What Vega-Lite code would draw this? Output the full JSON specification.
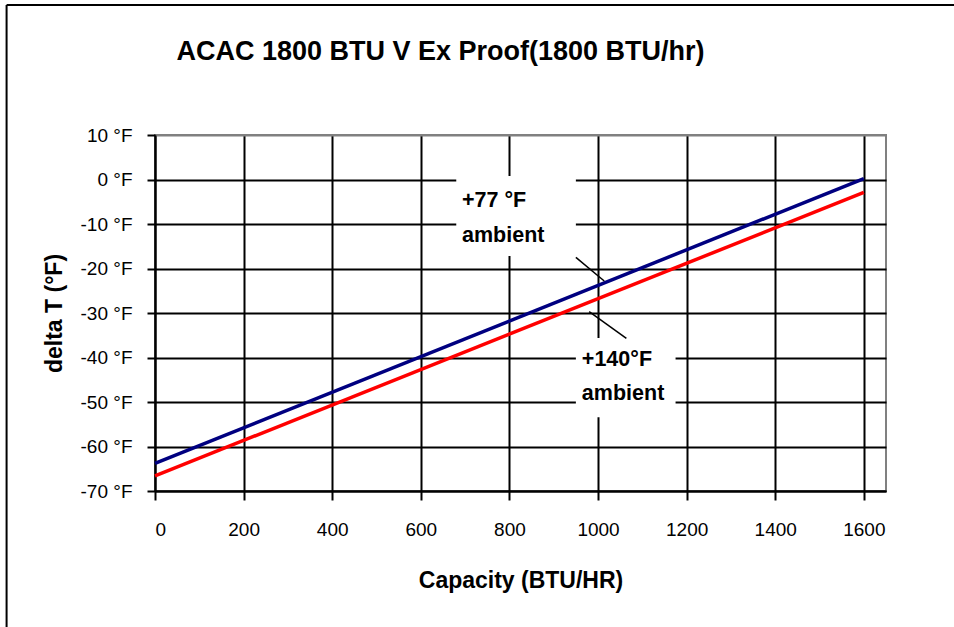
{
  "$schema": "https://vega.github.io/schema/vega-lite/v6.json",
  "width": 731,
  "height": 356,
  "autosize": {"type": "none"},
  "padding": {"left": 155, "top": 135, "right": 68, "bottom": 136},
  "background": "white",
  "title": {
    "text": "ACAC 1800 BTU V Ex Proof(1800 BTU/hr)",
    "font": "Liberation Sans",
    "fontSize": 27,
    "fontWeight": "bold",
    "color": "black",
    "anchor": "middle",
    "dx": -80,
    "baseline": "alphabetic",
    "offset": -83
  },
  "config": {
    "view": {"stroke": "#808080", "strokeWidth": 2},
    "axis": {
      "grid": true,
      "domainColor": "black",
      "domainWidth": 2,
      "tickColor": "black",
      "tickWidth": 2,
      "gridColor": "black",
      "gridWidth": 2,
      "gridOpacity": 1,
      "labelColor": "black",
      "labelFont": "Liberation Sans",
      "labelFontSize": 19,
      "titleFont": "Liberation Sans",
      "titleFontSize": 23,
      "titleFontWeight": "bold",
      "titleColor": "black"
    }
  },
  "layer": [
    {
      "data": {
        "values": [
          {"capacity": 0, "deltaT": -63.8, "series": "+77 °F ambient"},
          {"capacity": 1600, "deltaT": 0.2, "series": "+77 °F ambient"},
          {"capacity": 0, "deltaT": -66.6, "series": "+140°F ambient"},
          {"capacity": 1600, "deltaT": -2.9, "series": "+140°F ambient"}
        ]
      },
      "mark": {"type": "line", "strokeWidth": 3.5},
      "encoding": {
        "x": {
          "field": "capacity",
          "type": "quantitative",
          "scale": {"domain": [0, 1650], "nice": false, "zero": false},
          "axis": {
            "title": "Capacity (BTU/HR)",
            "grid": true,
            "values": [0, 200, 400, 600, 800, 1000, 1200, 1400, 1600],
            "format": "d",
            "tickSize": 9,
            "labelPadding": 20,
            "titlePadding": 30
          }
        },
        "y": {
          "field": "deltaT",
          "type": "quantitative",
          "scale": {"domain": [-70, 10], "nice": false, "zero": false},
          "axis": {
            "title": "delta T (°F)",
            "grid": true,
            "values": [-70, -60, -50, -40, -30, -20, -10, 0, 10],
            "labelExpr": "datum.value + ' °F'",
            "tickSize": 8,
            "labelPadding": 15,
            "titlePadding": 14,
            "gridColor": {"condition": {"test": "datum.value === 10", "value": "#808080"}, "value": "black"}
          }
        },
        "color": {
          "field": "series",
          "type": "nominal",
          "scale": {"domain": ["+77 °F ambient", "+140°F ambient"], "range": ["#000080", "#ff0000"]},
          "legend": null
        }
      }
    },
    {
      "data": {"values": [{}]},
      "mark": {"type": "rect", "fill": "white", "stroke": null},
      "encoding": {
        "x": {"datum": 680},
        "x2": {"datum": 950},
        "y": {"datum": 0.8},
        "y2": {"datum": -17.2}
      }
    },
    {
      "data": {"values": [{}]},
      "mark": {"type": "rect", "fill": "white", "stroke": null},
      "encoding": {
        "x": {"datum": 950},
        "x2": {"datum": 1175},
        "y": {"datum": -35.6},
        "y2": {"datum": -53.4}
      }
    },
    {
      "data": {"values": [{}]},
      "mark": {"type": "rule", "color": "black", "strokeWidth": 1.5},
      "encoding": {
        "x": {"datum": 950},
        "y": {"datum": -17.5},
        "x2": {"datum": 1014},
        "y2": {"datum": -22.8}
      }
    },
    {
      "data": {"values": [{}]},
      "mark": {"type": "rule", "color": "black", "strokeWidth": 1.5},
      "encoding": {
        "x": {"datum": 980},
        "y": {"datum": -29.7},
        "x2": {"datum": 1064},
        "y2": {"datum": -35.7}
      }
    },
    {
      "data": {"values": [{}]},
      "mark": {
        "type": "text",
        "text": ["+77 °F", "ambient"],
        "font": "Liberation Sans",
        "fontSize": 21.5,
        "fontWeight": "bold",
        "color": "black",
        "align": "left",
        "baseline": "alphabetic",
        "lineHeight": 34.4
      },
      "encoding": {
        "x": {"datum": 693},
        "y": {"datum": -6.25}
      }
    },
    {
      "data": {"values": [{}]},
      "mark": {
        "type": "text",
        "text": ["+140°F", "ambient"],
        "font": "Liberation Sans",
        "fontSize": 21.5,
        "fontWeight": "bold",
        "color": "black",
        "align": "left",
        "baseline": "alphabetic",
        "lineHeight": 34.3
      },
      "encoding": {
        "x": {"datum": 963.5},
        "y": {"datum": -41.8}
      }
    },
    {
      "data": {"values": [{}]},
      "mark": {"type": "rule", "color": "black", "strokeWidth": 2, "clip": false},
      "encoding": {
        "x": {"datum": -335},
        "y": {"datum": 39.2},
        "y2": {"datum": -115}
      }
    },
    {
      "data": {"values": [{}]},
      "mark": {"type": "rule", "color": "black", "strokeWidth": 2, "clip": false},
      "encoding": {
        "y": {"datum": 39.2},
        "x": {"datum": -335},
        "x2": {"datum": 1900}
      }
    }
  ]
}
